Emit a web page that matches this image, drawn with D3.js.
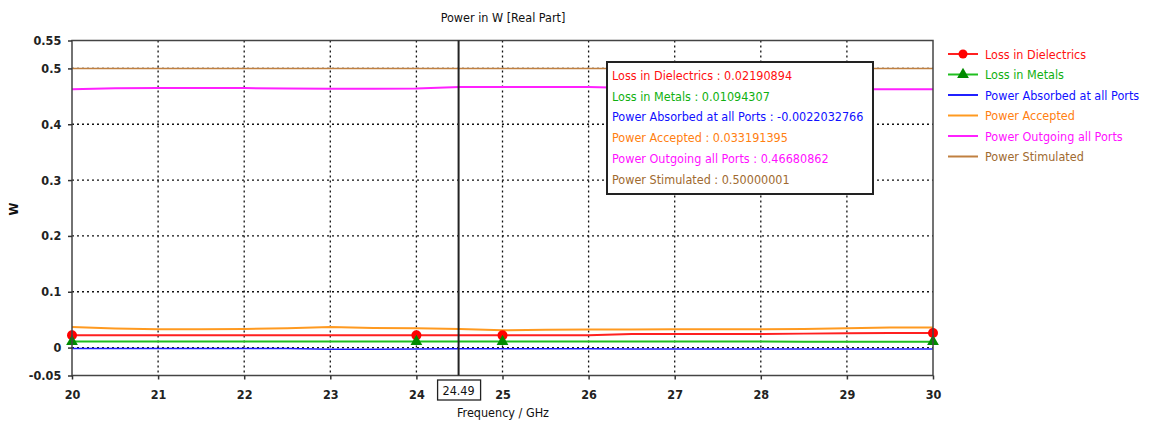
<!DOCTYPE html>
<html><head><meta charset="utf-8">
<script src="https://cdn.jsdelivr.net/npm/d3@7"></script>
<style>
body{margin:0;background:#fff;}
svg text{font-family:"DejaVu Sans Condensed","Liberation Sans",sans-serif;}
</style></head>
<body><svg id="c" width="1150" height="423"></svg>
<script>
const freq = [20,20.5,21,21.5,22,22.5,23,23.5,24,24.5,25,25.5,26,26.5,27,27.5,28,28.5,29,29.5,30];
const lossDielectrics = [0.0220,0.0220,0.0220,0.0220,0.0220,0.0219,0.0219,0.0219,0.0219,0.0219,0.0219,0.0219,0.0220,0.0243,0.0244,0.0244,0.0244,0.0250,0.0258,0.0260,0.0260];
const lossMetals = [0.0108,0.0108,0.0109,0.0109,0.0109,0.0109,0.0109,0.0109,0.0109,0.0109,0.0109,0.0109,0.0108,0.0108,0.0108,0.0107,0.0107,0.0106,0.0106,0.0106,0.0106];
const powerAbsorbed = [-0.0016,-0.0016,-0.0016,-0.0016,-0.0016,-0.0016,-0.0028,-0.0028,-0.0024,-0.0022,-0.0022,-0.0022,-0.0022,-0.0024,-0.0024,-0.0024,-0.0024,-0.0024,-0.0024,-0.0024,-0.0024];
const powerAccepted = [0.0368,0.0340,0.0327,0.0327,0.0335,0.0345,0.0368,0.0350,0.0345,0.0332,0.0310,0.0320,0.0322,0.0325,0.0327,0.0327,0.0327,0.0335,0.0345,0.0358,0.0360];
const powerOutgoing = [0.4625,0.4645,0.4648,0.4648,0.4648,0.4640,0.4638,0.4638,0.4640,0.4668,0.4668,0.4668,0.4666,0.4650,0.4645,0.4640,0.4635,0.4630,0.4627,0.4625,0.4625];
const powerStimulated = [0.5,0.5,0.5,0.5,0.5,0.5,0.5,0.5,0.5,0.5,0.5,0.5,0.5,0.5,0.5,0.5,0.5,0.5,0.5,0.5,0.5];
const markerFreqs = [20,24,25,30];
const xTicks = [20,21,22,23,24,25,26,27,28,29,30];
const yTicks = [-0.05,0,0.1,0.2,0.3,0.4,0.5,0.55];
const gridY = [0,0.1,0.2,0.3,0.4,0.5];
const cursorFreq = 24.49;
const seriesNames = ["Loss in Dielectrics","Loss in Metals","Power Absorbed at all Ports","Power Accepted","Power Outgoing all Ports","Power Stimulated"];
const readout = ["0.02190894","0.01094307","-0.0022032766","0.033191395","0.46680862","0.50000001"];
const lineColors = ["#ff2020","#1fbf1f","#2020ff","#ff9a20","#ff20ff","#c08040"];
const textColors = ["#ff1010","#10b010","#1010ff","#ff8010","#ff10ff","#a06a30"];
const seriesData = [lossDielectrics,lossMetals,powerAbsorbed,powerAccepted,powerOutgoing,powerStimulated];

const svg = d3.select("#c");
const x = d3.scaleLinear().domain([20,30]).range([72,933]);
const y = d3.scaleLinear().domain([-0.05,0.55]).range([375.5,40.5]);

// grid
const g = svg.append("g");
g.selectAll(".gx").data(xTicks.slice(1,-1)).join("line")
  .attr("x1",d=>x(d)).attr("x2",d=>x(d)).attr("y1",y(0.55)).attr("y2",y(-0.05))
  .attr("stroke","#111").attr("stroke-width",1.3).attr("stroke-dasharray","2,3");
g.selectAll(".gy").data(gridY).join("line")
  .attr("x1",x(20)).attr("x2",x(30)).attr("y1",d=>y(d)).attr("y2",d=>y(d))
  .attr("stroke","#111").attr("stroke-width",1.3).attr("stroke-dasharray","2,3");

// series lines
const line = d3.line().x((d,i)=>x(freq[i])).y(d=>y(d));
seriesData.forEach((s,k)=>{
  svg.append("path").datum(s).attr("d",line).attr("fill","none")
    .attr("stroke",lineColors[k]).attr("stroke-width",k==2||k==5?1.5:2);
});

// markers
const idx = markerFreqs.map(f=>freq.indexOf(f));
svg.selectAll(".mc").data(idx).join("circle")
  .attr("cx",i=>x(freq[i])).attr("cy",i=>y(lossDielectrics[i])).attr("r",5).attr("fill","#ff0000");
const tri = d3.symbol().type(d3.symbolTriangle).size(60);
svg.selectAll(".mt").data(idx).join("path")
  .attr("d",tri).attr("transform",i=>`translate(${x(freq[i])},${y(lossMetals[i])})`).attr("fill","#008a00");

// frame
svg.append("rect").attr("x",x(20)).attr("y",y(0.55)).attr("width",x(30)-x(20)).attr("height",y(-0.05)-y(0.55))
  .attr("fill","none").attr("stroke","#444").attr("stroke-width",1.5);

// axes
const xa = svg.append("g").attr("transform",`translate(0,${y(-0.05)})`)
  .call(d3.axisBottom(x).tickValues(xTicks).tickFormat(d3.format("d")).tickSize(4).tickSizeOuter(0));
const ya = svg.append("g").attr("transform",`translate(${x(20)},0)`)
  .call(d3.axisLeft(y).tickValues(yTicks).tickFormat(d=>d===0?"0":String(d)).tickSize(4).tickSizeOuter(0));
[xa,ya].forEach(a=>{
  a.select(".domain").remove();
  a.selectAll("line").attr("stroke","#333").attr("stroke-width",1.5);
  a.selectAll("text").attr("font-size",12.5).attr("font-weight","bold").attr("fill","#222");
});
xa.selectAll("text").attr("dy","1.35em");
ya.selectAll("text").attr("dx","-0.3em");

// cursor
svg.append("line").attr("x1",x(cursorFreq)).attr("x2",x(cursorFreq)).attr("y1",y(0.55)).attr("y2",y(-0.05))
  .attr("stroke","#222").attr("stroke-width",2);
svg.append("rect").attr("x",x(cursorFreq)-21).attr("y",380).attr("width",43).attr("height",20)
  .attr("fill","#fff").attr("stroke","#222").attr("stroke-width",1.3);
svg.append("text").attr("x",x(cursorFreq)).attr("y",395).attr("text-anchor","middle")
  .attr("font-size",12.5).attr("fill","#111").text(String(cursorFreq));

// titles
svg.append("text").attr("x",503).attr("y",22).attr("text-anchor","middle").attr("font-size",12.5).attr("fill","#111").text("Power in W [Real Part]");
svg.append("text").attr("x",503).attr("y",417).attr("text-anchor","middle").attr("font-size",12.5).attr("fill","#111").text("Frequency / GHz");
svg.append("text").attr("transform","translate(18,209) rotate(-90)").attr("text-anchor","middle").attr("font-size",13).attr("font-weight","bold").attr("fill","#111").text("W");

// tooltip
svg.append("rect").attr("x",607).attr("y",62).attr("width",266).attr("height",132)
  .attr("fill","#fff").attr("stroke","#222").attr("stroke-width",2);
svg.selectAll(".tt").data(seriesNames).join("text")
  .attr("x",612).attr("y",(d,i)=>80+i*20.7).attr("font-size",12.5)
  .attr("fill",(d,i)=>textColors[i]).text((d,i)=>`${d} : ${readout[i]}`);

// legend
const lg = svg.append("g");
seriesNames.forEach((n,i)=>{
  const yy = 54+i*20.5;
  lg.append("line").attr("x1",948).attr("x2",978).attr("y1",yy).attr("y2",yy).attr("stroke",lineColors[i]).attr("stroke-width",2);
  if(i===0) lg.append("circle").attr("cx",963).attr("cy",yy).attr("r",4.5).attr("fill","#ff0000");
  if(i===1) lg.append("path").attr("d",tri).attr("transform",`translate(963,${yy})`).attr("fill","#008a00");
  lg.append("text").attr("x",985).attr("y",yy+4.5).attr("font-size",12.5).attr("fill",textColors[i]).text(n);
});
</script></body></html>
